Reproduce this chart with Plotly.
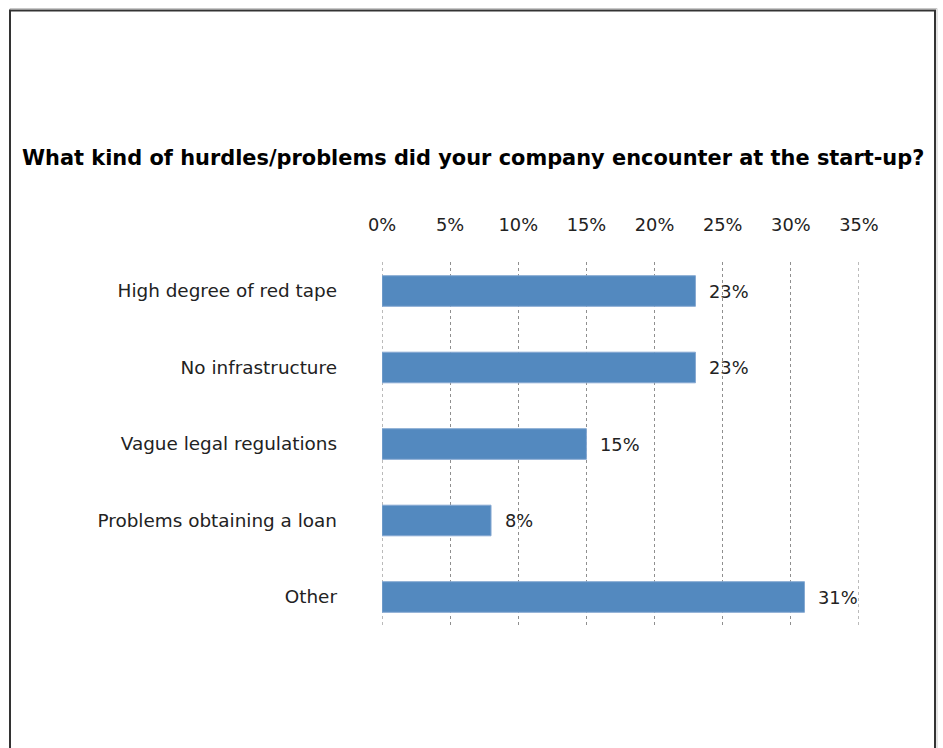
import plotly.graph_objects as go

# Survey results: share of companies reporting each start-up hurdle
categories = [
    "High degree of red tape",
    "No infrastructure",
    "Vague legal regulations",
    "Problems obtaining a loan",
    "Other",
]
shares = [23, 23, 15, 8, 31]
tick_values = [0, 5, 10, 15, 20, 25, 30, 35]
tick_labels = ["0%", "5%", "10%", "15%", "20%", "25%", "30%", "35%"]
title_text = "What kind of hurdles/problems did your company encounter at the start-up?"

W, H = 943, 748
PLOT_L, PLOT_R, PLOT_T, PLOT_B = 382, 859, 262, 625

BAR_COLOR = "#5389bf"
BAR_EDGE = "#86a9d2"
TEXT_COLOR = "#222222"
GRID_COLOR = "#8f8f8f"
FONT = "DejaVu Sans, Verdana, sans-serif"
LABEL_SIZE = 18.4
TICK_SIZE = 17.8

fig = go.Figure()
fig.add_trace(
    go.Bar(
        x=shares,
        y=categories,
        orientation="h",
        width=0.4,
        marker=dict(color=BAR_COLOR, line=dict(color=BAR_EDGE, width=1)),
        hoverinfo="skip",
    )
)

# value labels to the right of each bar
for cat, val in zip(categories, shares):
    fig.add_annotation(
        x=val, y=cat, xref="x", yref="y",
        text=f"{val}%", showarrow=False,
        xanchor="left", yanchor="middle", xshift=12,
        font=dict(family=FONT, size=TICK_SIZE, color=TEXT_COLOR),
    )

# dotted gridlines at the two ends of the value axis (plotly skips these)
for v in (tick_values[0], tick_values[-1]):
    fig.add_shape(
        type="line", xref="x", yref="paper",
        x0=v, x1=v, y0=0, y1=1,
        line=dict(color="#777777", width=1, dash="dot"),
        layer="below",
    )

# convert pixel positions to paper coordinates for the frame
pw = PLOT_R - PLOT_L
ph = PLOT_B - PLOT_T
def px_x(p):
    return (p - PLOT_L) / pw
def px_y(p):
    return (PLOT_B - p) / ph

# faint shadow line and dark frame around the chart panel
fig.add_shape(
    type="rect", xref="paper", yref="paper",
    x0=px_x(10), x1=px_x(937), y0=px_y(800), y1=px_y(8.5),
    line=dict(color="#c8c8c8", width=1), fillcolor="rgba(0,0,0,0)", layer="below",
)
fig.add_shape(
    type="rect", xref="paper", yref="paper",
    x0=px_x(10), x1=px_x(935), y0=px_y(800), y1=px_y(10.5),
    line=dict(color="#333333", width=2), fillcolor="rgba(0,0,0,0)", layer="below",
)

spacing = 76.5
top_pad = (291 - PLOT_T) / spacing
span = ph / spacing

fig.update_layout(
    width=W, height=H,
    margin=dict(l=PLOT_L, r=W - PLOT_R, t=PLOT_T, b=H - PLOT_B, pad=0),
    paper_bgcolor="white",
    plot_bgcolor="white",
    showlegend=False,
    title=dict(
        text=f"<b>{title_text}</b>",
        xref="container", yref="container",
        x=22 / W, xanchor="left",
        y=1 - 158 / H, yanchor="middle",
        font=dict(family=FONT, size=20.9, color="#000000"),
    ),
    xaxis=dict(
        range=[0, 35],
        side="top",
        tickvals=tick_values,
        ticktext=tick_labels,
        showgrid=True,
        gridcolor=GRID_COLOR,
        griddash="dot",
        gridwidth=1,
        zeroline=False,
        showline=False,
        ticks="",
        ticklabelstandoff=26,
        tickfont=dict(family=FONT, size=TICK_SIZE, color=TEXT_COLOR),
        fixedrange=True,
    ),
    yaxis=dict(
        categoryorder="array",
        categoryarray=categories,
        range=[-top_pad + span, -top_pad],
        showgrid=False,
        zeroline=False,
        showline=False,
        ticks="",
        ticklabelstandoff=44,
        tickfont=dict(family=FONT, size=LABEL_SIZE, color=TEXT_COLOR),
        fixedrange=True,
    ),
)

fig.write_html("out.html")
